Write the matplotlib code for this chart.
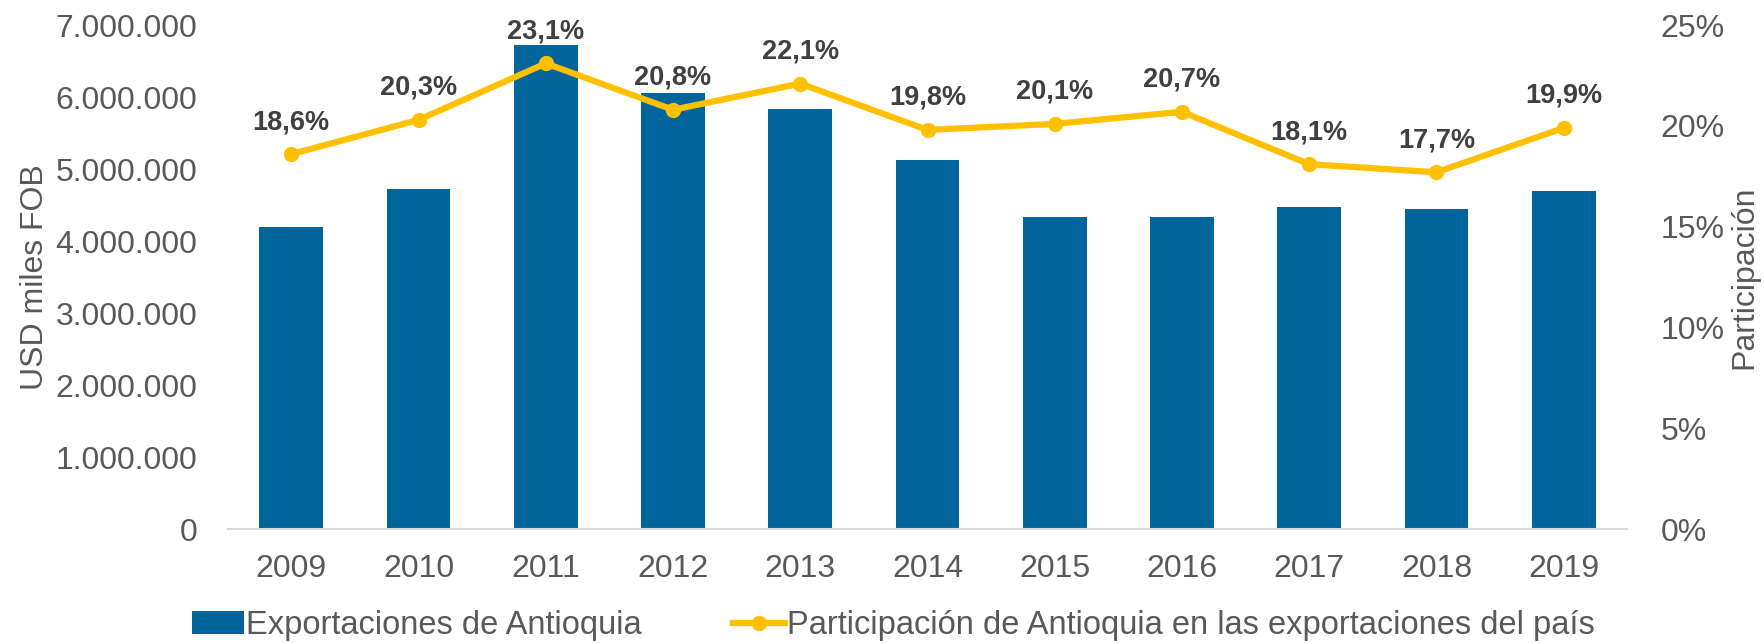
import matplotlib
matplotlib.use("Agg")
import matplotlib.pyplot as plt
from matplotlib.ticker import FuncFormatter

plt.rcParams['font.family'] = ['Liberation Sans', 'DejaVu Sans']

anios = ['2009', '2010', '2011', '2012', '2013', '2014', '2015', '2016', '2017', '2018', '2019']
exportaciones = [4200000, 4720000, 6720000, 6050000, 5840000, 5125000, 4330000, 4340000, 4480000, 4450000, 4690000]
participacion = [18.6, 20.3, 23.1, 20.8, 22.1, 19.8, 20.1, 20.7, 18.1, 17.7, 19.9]

azul = '#00659A'
amarillo = '#FFC000'
gris = '#595959'

fig = plt.figure(figsize=(17.65, 6.43), dpi=100)
ax = fig.add_axes([0.129, 0.177, 0.793, 0.784])
ax2 = ax.twinx()

x = list(range(len(anios)))
b = ax.bar(x, exportaciones, width=0.5, color=azul, label='Exportaciones de Antioquia', zorder=2)
l, = ax2.plot(x, participacion, color=amarillo, lw=4.5, marker='o', markersize=10,
              label='Participación de Antioquia en las exportaciones del país', zorder=3)

ax.set_xlim(-0.5, 10.5)
ax.set_ylim(0, 7000000)
ax2.set_ylim(0, 25)
ax.set_xticks(x)
ax.set_xticklabels(anios)
ax.set_yticks(range(0, 7000001, 1000000))
ax.yaxis.set_major_formatter(FuncFormatter(lambda v, p: f'{int(v):,}'.replace(',', '.')))
ax2.set_yticks(range(0, 26, 5))
ax2.yaxis.set_major_formatter(FuncFormatter(lambda v, p: f'{int(v)}%'))

for a in (ax, ax2):
    for s in ['top', 'left', 'right', 'bottom']:
        a.spines[s].set_visible(False)
    a.tick_params(length=0, labelsize=23, labelcolor=gris)
ax.spines['bottom'].set_visible(True)
ax.spines['bottom'].set_color('#D9D9D9')
ax.spines['bottom'].set_linewidth(1.5)
ax.tick_params(axis='x', pad=18)
ax.tick_params(axis='y', pad=22)
ax2.tick_params(axis='y', pad=24)

ax.set_ylabel('USD miles FOB', fontsize=23, color=gris)
ax.yaxis.set_label_coords(-0.127, 0.5)
ax2.set_ylabel('Participación', fontsize=23, color=gris)
ax2.yaxis.set_label_coords(1.073, 0.5)

for xi, p in zip(x, participacion):
    ax2.annotate(f'{p:.1f}%'.replace('.', ','), (xi, p), xytext=(0, 32), textcoords='offset pixels',
                 ha='center', va='center', fontsize=19.5, fontweight='bold', color='#404040')

fig.legend([b, l], [b.get_label(), l.get_label()], loc='center', bbox_to_anchor=(0.506, 0.027),
           ncol=2, frameon=False, fontsize=23.5, labelcolor=gris, handlelength=1.6, handletextpad=0.05,
           columnspacing=2.8, borderpad=0)

fig.savefig('out.png', dpi=100)
